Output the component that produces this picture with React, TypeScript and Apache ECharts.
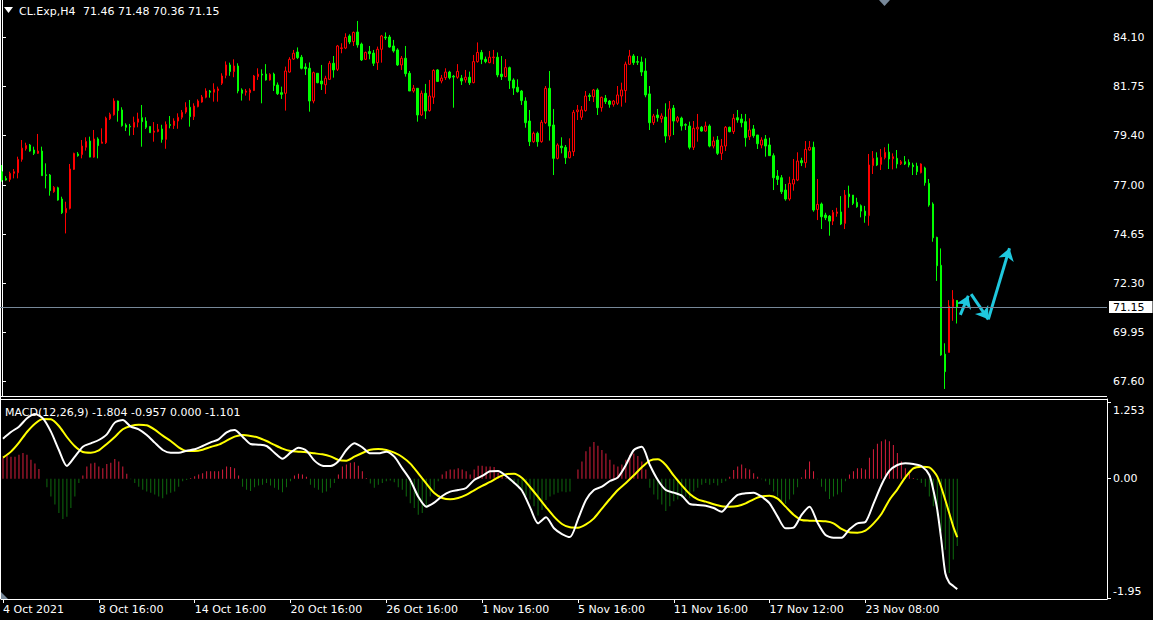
import React, { useEffect, useRef } from 'react';
import * as echarts from 'echarts';

const symbolName = 'CL.Exp,H4';
const lastOhlc = ['71.46', '71.48', '70.36', '71.15'];
const macdTitle = 'MACD(12,26,9)';
const macdTitleValues = ['-1.804', '-0.957', '0.000', '-1.101'];
const timeLabels = ['4 Oct 2021', '8 Oct 16:00', '14 Oct 16:00', '20 Oct 16:00', '26 Oct 16:00', '1 Nov 16:00', '5 Nov 16:00', '11 Nov 16:00', '17 Nov 12:00', '23 Nov 08:00'];
const priceTicks = [67.6, 69.95, 72.3, 74.65, 77.0, 79.4, 81.75, 84.1];
const macdTicks = [1.253, 0, -1.95];
const macdTickLabels = ['1.253', '0.00', '-1.95'];
const currentPrice = 71.15;
const totalSlots = 277;
const barsPerLabel = 24;

// [open, close, low, high]
const candles: number[][] = [
  [77.64,77.24,77.16,77.96],[77.32,77.24,77.21,77.43],[77.27,77.56,77.16,77.64],[77.56,77.64,77.32,77.77],[77.59,78.23,77.32,78.36],
  [78.23,78.77,78.12,79.16],[78.74,78.90,78.65,79.03],[78.92,78.63,78.60,78.97],[78.68,78.52,78.44,78.84],[78.52,78.63,78.49,79.45],
  [78.63,77.45,77.45,78.84],[77.49,77.46,76.84,78.04],[77.48,76.73,76.49,77.53],[76.68,76.89,76.63,76.95],[76.87,76.28,76.25,76.92],
  [76.33,75.67,75.61,76.44],[75.67,75.88,74.68,76.20],[75.88,77.77,75.83,78.01],[77.75,78.52,77.72,78.55],[78.49,78.41,78.36,78.58],
  [78.46,78.87,78.28,79.16],[78.81,79.09,78.65,79.29],[79.11,78.34,78.33,79.32],[78.34,79.21,78.31,79.64],[79.21,78.89,78.28,79.29],
  [79.00,79.06,79.00,79.72],[79.03,80.21,78.97,80.28],[80.18,80.39,80.12,80.47],[80.37,81.03,80.33,81.16],[81.03,80.57,80.04,81.05],
  [80.60,79.85,79.80,80.73],[79.88,79.77,79.59,79.96],[79.82,79.79,79.37,79.93],[79.77,80.01,79.40,80.28],[80.01,80.17,79.77,80.47],
  [80.23,80.04,78.84,80.84],[80.07,79.77,79.69,80.25],[79.81,79.51,79.51,79.81],[79.53,79.59,79.08,80.02],[79.57,79.67,79.53,79.93],
  [79.69,79.19,79.03,79.89],[79.19,79.91,78.74,80.05],[79.90,79.86,79.72,80.31],[79.85,80.07,79.69,80.20],[80.07,80.25,79.70,80.44],
  [80.25,80.49,80.15,80.60],[80.50,80.73,80.42,80.97],[80.73,80.28,79.80,81.08],[80.28,80.79,80.12,80.92],[80.76,81.03,80.73,81.11],
  [80.98,81.22,80.95,81.32],[81.21,81.51,81.16,81.64],[81.51,81.45,81.19,81.56],[81.45,81.59,81.00,81.88],[81.53,81.61,81.00,81.72],
  [81.88,82.23,81.80,82.36],[82.26,82.76,82.12,82.93],[82.76,82.44,82.24,82.87],[82.44,82.71,82.17,83.03],[82.71,81.51,81.40,82.84],
  [81.56,81.40,81.05,81.64],[81.45,81.51,81.29,81.61],[81.43,81.56,81.05,81.64],[81.53,82.23,81.51,82.28],[82.20,82.32,82.04,82.60],
  [82.32,82.28,80.92,82.55],[82.32,82.04,82.01,82.80],[82.04,82.31,82.01,82.36],[82.32,81.77,81.51,82.39],[81.80,81.38,81.32,81.92],
  [81.43,81.35,81.13,81.72],[81.40,82.47,80.57,82.68],[82.42,83.03,82.39,83.13],[83.04,83.32,83.00,83.48],[83.38,83.11,83.04,83.60],
  [83.13,82.60,82.55,83.24],[82.66,82.58,82.28,82.84],[82.60,81.03,80.52,82.88],[81.03,82.39,80.92,82.44],[82.36,81.91,81.88,82.36],
  [81.99,81.85,81.56,82.76],[81.81,82.12,81.37,82.24],[82.07,82.84,82.04,82.95],[82.84,82.52,82.15,83.19],[82.55,83.67,82.47,83.72],
  [83.55,83.58,83.32,83.80],[83.57,84.08,83.52,84.28],[84.15,83.86,83.76,84.23],[83.88,84.32,83.67,84.36],[84.34,83.72,83.59,84.87],
  [83.76,83.00,82.95,83.83],[83.03,83.36,83.00,83.40],[83.40,83.30,83.03,83.67],[83.33,82.84,82.71,83.48],[82.87,83.51,82.52,83.64],
  [83.51,84.15,82.87,84.20],[84.10,84.06,83.96,84.32],[84.10,83.62,83.59,84.20],[83.67,83.43,83.35,83.96],[83.48,82.76,82.71,83.56],
  [82.76,83.08,82.52,83.19],[83.08,82.34,82.20,83.67],[82.36,81.51,81.51,82.47],[81.51,81.64,81.43,81.80],[81.64,80.36,80.04,81.64],
  [80.36,81.40,80.31,81.53],[81.40,80.55,80.17,81.85],[80.57,81.27,80.52,82.04],[81.21,82.50,80.89,82.55],[82.52,81.97,81.94,82.56],
  [81.99,82.13,81.88,82.28],[82.15,82.42,82.04,82.60],[82.42,82.15,82.07,82.48],[82.22,82.18,80.71,82.28],[82.17,82.45,82.10,82.80],
  [82.12,81.99,81.80,82.28],[82.04,82.17,81.91,82.52],[82.17,81.91,81.80,82.44],[81.91,82.92,81.88,83.24],[82.92,83.36,82.87,83.84],
  [83.36,83.03,82.80,83.48],[83.03,82.92,82.84,83.16],[82.87,83.13,82.84,83.43],[83.11,83.14,82.80,83.48],[83.13,82.28,82.17,83.36],
  [82.32,82.20,82.04,83.19],[82.20,82.63,82.17,83.04],[82.63,82.01,81.61,82.68],[82.04,81.65,81.32,82.12],[81.69,81.48,81.43,82.07],
  [81.51,81.05,80.84,81.56],[81.03,79.99,79.75,81.21],[80.07,79.08,78.87,80.60],[79.08,79.48,79.03,79.56],[79.48,79.08,78.84,79.56],
  [79.08,80.01,79.03,80.12],[79.99,81.64,79.93,81.75],[81.64,79.83,79.13,82.47],[79.88,78.28,77.48,80.65],[78.28,78.92,78.23,79.00],
  [78.87,78.79,78.52,79.29],[78.81,78.31,78.01,78.92],[78.31,78.60,78.28,79.24],[78.60,80.49,78.39,80.60],[80.52,80.60,80.12,80.84],
  [80.25,80.60,80.12,80.79],[80.57,81.27,80.52,81.51],[81.29,81.25,81.03,81.40],[81.24,81.56,80.98,81.61],[81.56,80.71,80.36,81.64],
  [80.71,81.21,80.52,81.24],[81.16,81.00,80.89,81.32],[81.03,80.87,80.71,81.08],[80.87,81.03,80.76,81.08],[80.92,81.32,80.84,81.75],
  [81.27,81.56,80.76,81.91],[81.53,82.80,80.95,82.92],[82.79,83.19,82.76,83.48],[83.19,82.87,82.76,83.28],[82.92,82.89,82.76,83.19],
  [82.90,82.42,82.23,83.16],[82.47,81.32,81.21,83.08],[81.37,79.99,79.64,81.75],[79.99,80.31,79.88,80.41],[80.36,80.23,80.04,80.65],
  [80.18,80.31,79.99,80.44],[80.26,79.35,79.03,80.92],[79.35,80.65,79.16,81.03],[80.69,80.07,79.40,80.84],[80.07,80.23,79.99,80.31],
  [80.21,79.83,79.61,80.28],[79.90,79.87,79.64,79.96],[79.83,78.81,78.71,80.04],[78.81,79.72,78.68,80.07],[79.69,79.77,79.08,80.41],
  [79.77,79.59,79.56,79.83],[79.59,79.83,79.56,80.04],[79.83,78.87,78.81,79.91],[78.87,79.11,78.76,79.32],[79.16,78.52,78.44,79.35],
  [78.52,78.87,78.20,79.21],[78.87,79.77,78.63,79.83],[79.77,79.56,79.53,79.80],[79.56,80.20,79.45,80.41],[80.23,80.12,79.99,80.60],
  [80.17,79.99,79.77,80.41],[80.04,79.27,78.84,80.41],[79.32,79.64,79.16,80.20],[79.69,79.37,79.27,79.88],[79.40,78.98,78.73,79.40],
  [78.92,79.16,78.76,79.29],[79.21,78.87,78.36,79.40],[78.92,78.41,78.41,79.27],[78.41,77.35,76.76,78.52],[77.43,77.27,77.00,77.72],
  [77.35,76.68,76.57,77.48],[76.76,76.33,76.25,77.05],[76.33,77.08,76.25,77.40],[77.05,77.27,76.73,78.25],[77.24,78.15,77.19,78.57],
  [78.17,78.07,77.91,78.31],[78.07,78.71,77.83,79.11],[78.68,78.81,78.65,79.11],[78.81,75.80,75.72,79.08],[75.83,76.07,75.32,77.29],
  [76.09,75.48,74.89,76.16],[75.56,75.43,75.32,75.67],[75.51,75.27,74.57,75.56],[75.27,75.69,75.08,75.80],[75.64,75.71,75.48,75.91],
  [75.71,75.13,75.08,76.47],[75.16,76.52,74.89,76.76],[76.57,76.44,75.91,76.97],[76.52,76.12,76.04,76.52],[76.17,75.96,75.91,76.39],
  [76.01,75.75,75.45,76.07],[75.75,75.53,75.19,76.00],[75.53,77.96,75.05,78.49],[77.93,78.28,77.53,78.63],[78.31,77.96,77.91,78.57],
  [77.99,78.33,77.72,78.73],[78.31,78.57,78.23,78.81],[78.58,78.25,77.77,78.98],[78.26,78.36,77.75,78.52],[78.28,78.01,77.80,78.68],
  [78.02,78.12,77.96,78.20],[78.12,78.01,77.96,78.39],[78.09,77.96,77.85,78.23],[77.96,77.88,77.48,78.07],[77.91,77.64,77.48,78.07],
  [77.59,78.01,77.56,78.04],[77.82,77.11,76.97,77.88],[77.08,76.04,75.96,77.29],[76.09,74.47,74.28,76.17],[74.49,73.13,72.40,74.52],
  [73.15,68.85,68.81,73.96],[68.89,68.05,67.22,69.41],[68.97,71.20,68.97,71.48],[71.17,71.52,70.49,71.96],[71.46,71.15,70.36,71.48],
];

// MACD main line [bar, value]
const macdMain: number[][] = [
  [0,0.654],[2,0.763],[4,0.850],[6,0.986],[8,1.057],[10,0.986],[12,0.769],[14,0.469],[16,0.208],[18,0.360],
  [20,0.523],[22,0.578],[24,0.632],[26,0.725],[28,0.916],[30,0.959],[32,0.850],[34,0.807],[36,0.714],[38,0.589],
  [40,0.469],[42,0.425],[44,0.425],[46,0.458],[48,0.480],[50,0.534],[52,0.594],[54,0.643],[56,0.758],[58,0.796],
  [60,0.687],[62,0.567],[64,0.556],[66,0.534],[68,0.425],[70,0.327],[72,0.425],[74,0.507],[76,0.458],[78,0.295],
  [80,0.213],[82,0.208],[84,0.284],[86,0.469],[88,0.578],[90,0.513],[92,0.414],[94,0.414],[96,0.442],[98,0.360],
  [100,0.169],[102,-0.021],[104,-0.294],[106,-0.457],[108,-0.392],[110,-0.283],[112,-0.212],[114,-0.185],[116,-0.152],[118,-0.021],
  [120,0.044],[122,0.120],[124,0.126],[126,0.044],[128,-0.065],[130,-0.196],[132,-0.468],[134,-0.729],[136,-0.631],[138,-0.811],
  [140,-0.904],[142,-0.953],[144,-0.664],[146,-0.348],[148,-0.185],[150,-0.130],[152,-0.038],[154,0.022],[156,0.224],[158,0.469],
  [160,0.523],[162,0.224],[164,-0.021],[166,-0.185],[168,-0.228],[170,-0.277],[172,-0.413],[174,-0.430],[176,-0.441],[178,-0.479],
  [180,-0.539],[182,-0.392],[184,-0.266],[186,-0.239],[188,-0.228],[190,-0.294],[192,-0.403],[194,-0.620],[196,-0.811],[198,-0.800],
  [200,-0.593],[202,-0.457],[204,-0.718],[206,-0.920],[208,-0.964],[210,-0.964],[212,-0.827],[214,-0.729],[216,-0.708],[218,-0.413],
  [220,-0.103],[222,0.126],[224,0.224],[226,0.251],[228,0.240],[230,0.208],[232,0.060],[233,-0.185],[234,-0.512],[235,-1.002],
  [236,-1.546],[237,-1.699],[238,-1.753],[239,-1.804],
];

// MACD signal line [bar, value]
const macdSignal: number[][] = [
  [0,0.344],[2,0.442],[4,0.589],[6,0.763],[8,0.899],[10,0.976],[12,0.970],[14,0.861],[16,0.681],[18,0.529],
  [20,0.436],[22,0.425],[24,0.463],[26,0.567],[28,0.681],[30,0.807],[32,0.861],[34,0.883],[36,0.872],[38,0.801],
  [40,0.703],[42,0.616],[44,0.513],[46,0.453],[48,0.453],[50,0.474],[52,0.518],[54,0.556],[56,0.621],[58,0.687],
  [60,0.714],[62,0.698],[64,0.670],[66,0.616],[68,0.551],[70,0.491],[72,0.453],[74,0.442],[76,0.431],[78,0.414],
  [80,0.398],[82,0.365],[84,0.306],[86,0.295],[88,0.360],[90,0.420],[92,0.474],[94,0.485],[96,0.469],[98,0.425],
  [100,0.355],[102,0.246],[104,0.088],[106,-0.076],[108,-0.234],[110,-0.315],[112,-0.337],[114,-0.315],[116,-0.266],[118,-0.190],
  [120,-0.119],[122,-0.054],[124,0.022],[126,0.071],[128,0.082],[130,0.011],[132,-0.136],[134,-0.299],[136,-0.463],[138,-0.620],
  [140,-0.740],[142,-0.795],[144,-0.800],[146,-0.746],[148,-0.648],[150,-0.490],[152,-0.332],[154,-0.185],[156,-0.070],[158,0.055],
  [160,0.186],[162,0.295],[164,0.316],[166,0.224],[168,0.049],[170,-0.108],[172,-0.250],[174,-0.337],[176,-0.375],[178,-0.419],
  [180,-0.452],[182,-0.457],[184,-0.446],[186,-0.403],[188,-0.337],[190,-0.288],[192,-0.277],[194,-0.326],[196,-0.457],[198,-0.588],
  [200,-0.675],[202,-0.686],[204,-0.691],[206,-0.697],[208,-0.729],[210,-0.822],[212,-0.876],[214,-0.882],[216,-0.849],[218,-0.735],
  [220,-0.577],[222,-0.348],[224,-0.174],[226,0.022],[228,0.169],[230,0.197],[232,0.186],[234,0.033],[236,-0.348],[238,-0.784],
  [239,-0.957],
];

// MACD histogram, one value per bar
const macdHist: number[] = [
  0.34,0.38,0.36,0.36,0.39,0.42,0.39,0.31,0.25,0.16,
  0.00,-0.14,-0.29,-0.42,-0.56,-0.66,-0.62,-0.48,-0.29,-0.07,
  0.05,0.20,0.25,0.26,0.20,0.17,0.24,0.26,0.32,0.28,
  0.20,0.08,-0.01,-0.07,-0.13,-0.18,-0.21,-0.23,-0.26,-0.29,
  -0.32,-0.26,-0.23,-0.21,-0.13,-0.04,-0.02,0.01,0.04,0.07,
  0.09,0.12,0.12,0.12,0.12,0.15,0.20,0.19,0.17,0.05,
  -0.13,-0.18,-0.20,-0.14,-0.11,-0.10,-0.07,-0.11,-0.15,-0.18,
  -0.22,-0.14,-0.04,0.05,0.08,0.07,0.03,-0.10,-0.15,-0.18,
  -0.23,-0.21,-0.15,-0.07,0.07,0.20,0.23,0.26,0.27,0.21,
  0.12,0.01,-0.08,-0.15,-0.10,-0.07,-0.04,-0.03,-0.06,-0.14,
  -0.18,-0.29,-0.40,-0.48,-0.59,-0.56,-0.48,-0.29,-0.18,-0.04,
  0.07,0.12,0.15,0.15,0.17,0.15,0.12,0.07,0.15,0.21,
  0.21,0.20,0.20,0.19,0.10,0.05,0.01,-0.04,-0.08,-0.13,
  -0.20,-0.28,-0.34,-0.45,-0.60,-0.51,-0.35,-0.29,-0.26,-0.23,
  -0.21,-0.22,-0.21,0.00,0.15,0.28,0.45,0.52,0.60,0.54,
  0.47,0.41,0.31,0.23,0.20,0.23,0.31,0.39,0.41,0.37,
  0.28,0.15,-0.15,-0.26,-0.34,-0.42,-0.53,-0.45,-0.37,-0.34,
  -0.32,-0.29,-0.32,-0.21,-0.15,-0.10,-0.07,-0.10,-0.07,-0.11,
  -0.07,-0.04,0.03,0.14,0.20,0.23,0.17,0.15,0.09,0.03,
  -0.01,-0.04,-0.10,-0.21,-0.29,-0.40,-0.41,-0.34,-0.26,-0.14,
  0.02,0.15,0.28,0.12,-0.01,-0.13,-0.21,-0.33,-0.29,-0.26,
  -0.22,-0.04,0.07,0.12,0.17,0.17,0.15,0.34,0.48,0.57,
  0.61,0.64,0.61,0.55,0.42,0.28,0.17,0.08,0.01,-0.02,
  -0.07,-0.13,-0.29,-0.45,-0.61,-0.86,-1.16,-1.54,-1.32,-1.101,
];

// drawn arrow objects: [[bar, price], [bar, price]]
const arrows: number[][][] = [
  [[239.8, 70.77], [241.8, 71.69]],
  [[242.5, 71.77], [246.8, 70.56]],
  [[246.8, 70.56], [252.1, 73.97]],
];

const FONT = '"DejaVu Sans", sans-serif';
const WHITE = '#ffffff';

export default function App() {
  const ref = useRef<HTMLDivElement>(null);

  useEffect(() => {
    document.body.style.margin = '0';
    document.body.style.background = '#000';
    if (!ref.current) return;
    const chart = echarts.init(ref.current, null, { renderer: 'svg' });
    const cats = Array.from({ length: totalSlots }, (_, i) => String(i));
    const isLabel = (i: number) => i % barsPerLabel === 0 && i / barsPerLabel < timeLabels.length;

    const option: any = {
      animation: false,
      backgroundColor: '#000',
      grid: [
        { left: 0, top: 0, width: 1107, height: 396 },
        { left: 0, top: 399, width: 1107, height: 200 },
      ],
      xAxis: [
        { type: 'category', gridIndex: 0, data: cats, boundaryGap: true, show: false },
        {
          type: 'category', gridIndex: 1, data: cats, boundaryGap: true, position: 'bottom',
          axisLine: { show: true, onZero: false, lineStyle: { color: WHITE, width: 1 } },
          axisTick: { show: true, alignWithLabel: true, length: 4, interval: (i: number) => isLabel(i), lineStyle: { color: WHITE } },
          axisLabel: {
            show: true, interval: (i: number) => isLabel(i),
            formatter: (v: string) => { const n = parseInt(v, 10); return isLabel(n) ? timeLabels[n / barsPerLabel] : ''; },
            color: WHITE, fontFamily: FONT, fontSize: 11, align: 'left', margin: 5,
          },
          splitLine: { show: false },
        },
        { type: 'value', gridIndex: 0, min: -0.5, max: totalSlots - 0.5, show: false },
      ],
      yAxis: [
        {
          type: 'value', gridIndex: 0, position: 'right', min: 66.882, max: 85.875,
          axisLine: { show: true, lineStyle: { color: WHITE } },
          axisTick: { show: true, length: 4, customValues: priceTicks, lineStyle: { color: WHITE } },
          axisLabel: { customValues: priceTicks, formatter: (v: number) => v.toFixed(2), color: WHITE, fontFamily: FONT, fontSize: 11, margin: 6 },
          splitLine: { show: false },
        },
        {
          type: 'value', gridIndex: 1, position: 'right', min: -1.966, max: 1.302,
          axisLine: { show: true, lineStyle: { color: WHITE } },
          axisTick: { show: true, length: 4, customValues: macdTicks, lineStyle: { color: WHITE } },
          axisLabel: {
            customValues: macdTicks,
            formatter: (v: number) => {
              let k = 1;
              macdTicks.forEach((t, j) => { if (Math.abs(t - v) < 1e-6) k = j; });
              const tag = k === 0 ? 't' : k === 2 ? 'b' : 'm';
              return `{${tag}|${macdTickLabels[k]}}`;
            },
            color: WHITE, fontFamily: FONT, fontSize: 11, margin: 6,
            rich: {
              t: { color: WHITE, fontFamily: FONT, fontSize: 11, padding: [18, 0, 0, 0] },
              b: { color: WHITE, fontFamily: FONT, fontSize: 11, padding: [0, 0, 14, 0] },
              m: { color: WHITE, fontFamily: FONT, fontSize: 11 },
            },
          },
          splitLine: { show: false },
        },
      ],
      series: [
        {
          type: 'candlestick', xAxisIndex: 0, yAxisIndex: 0, data: candles, barWidth: 2, silent: true,
          itemStyle: { color: '#000000', color0: '#00ff00', borderColor: '#ff0000', borderColor0: '#00ff00', borderWidth: 1 },
          markLine: {
            silent: true, symbol: ['none', 'none'], animation: false,
            data: [{ yAxis: currentPrice }],
            lineStyle: { color: '#778899', width: 1, type: 'solid' },
            label: {
              show: true, position: 'end', formatter: currentPrice.toFixed(2), color: '#000', backgroundColor: '#fff',
              fontFamily: FONT, fontSize: 11, padding: [1, 8, 0, 4], distance: 2,
            },
          },
        },
        {
          type: 'lines', coordinateSystem: 'cartesian2d', xAxisIndex: 2, yAxisIndex: 0, silent: true,
          data: arrows.map((a) => ({ coords: a })),
          symbol: ['none', 'arrow'], symbolSize: 12,
          lineStyle: { color: '#1fc8de', width: 3, opacity: 1, curveness: 0 },
        },
        {
          type: 'bar', xAxisIndex: 1, yAxisIndex: 1, data: macdHist, barWidth: 1, silent: true,
          itemStyle: { color: (p: any) => (p.value >= 0 ? '#d81e3c' : '#0e6a0e') },
        },
        {
          type: 'line', xAxisIndex: 1, yAxisIndex: 1, data: macdSignal, showSymbol: false, silent: true, smooth: 0.25,
          lineStyle: { color: '#ffff00', width: 2 },
        },
        {
          type: 'line', xAxisIndex: 1, yAxisIndex: 1, data: macdMain, showSymbol: false, silent: true, smooth: 0.25,
          lineStyle: { color: WHITE, width: 2 },
        },
      ],
      graphic: [
        { type: 'line', shape: { x1: 0.5, y1: 0, x2: 0.5, y2: 599 }, style: { stroke: WHITE, lineWidth: 1 }, silent: true },
        { type: 'line', shape: { x1: 0, y1: 396.5, x2: 1107, y2: 396.5 }, style: { stroke: WHITE, lineWidth: 1 }, silent: true },
        { type: 'line', shape: { x1: 0, y1: 399.5, x2: 1107, y2: 399.5 }, style: { stroke: WHITE, lineWidth: 1 }, silent: true },
        { type: 'polygon', shape: { points: [[879, 0], [890, 0], [884.5, 6]] }, style: { fill: '#778899' }, silent: true },
        { type: 'polygon', shape: { points: [[1, 592], [1, 599], [8, 599]] }, style: { fill: '#778899' }, silent: true },
        { type: 'polygon', shape: { points: [[4, 7], [13, 7], [8.5, 13]] }, style: { fill: WHITE }, silent: true },
        { type: 'text', x: 19, y: 11, silent: true, style: { text: symbolName, fill: WHITE, fontFamily: FONT, fontSize: 11, verticalAlign: 'middle' } },
        { type: 'text', x: 83, y: 11, silent: true, style: { text: lastOhlc.join(' '), fill: WHITE, fontFamily: FONT, fontSize: 11, verticalAlign: 'middle' } },
        { type: 'text', x: 5, y: 412, silent: true, style: { text: `${macdTitle} ${macdTitleValues.join(' ')}`, fill: WHITE, fontFamily: FONT, fontSize: 11, verticalAlign: 'middle' } },
      ],
    };
    chart.setOption(option);
    return () => chart.dispose();
  }, []);

  return <div ref={ref} style={{ width: 1153, height: 620, background: '#000' }} />;
}
